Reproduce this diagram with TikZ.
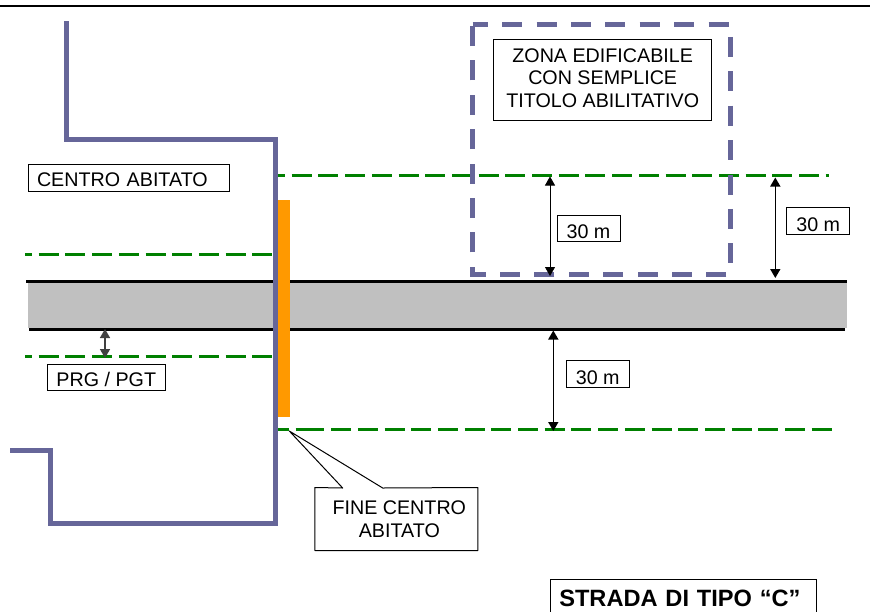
\documentclass[tikz,border=0pt]{standalone}
\usepackage{fontspec}
\setmainfont{Liberation Sans}
\usetikzlibrary{arrows.meta}
\definecolor{bordo}{HTML}{666699}
\definecolor{fascia}{HTML}{008000}
\definecolor{fine}{HTML}{FF9900}
\definecolor{strada}{HTML}{C0C0C0}
\tikzset{
    limite/.style={color=bordo, line width=5pt},
    zona/.style={limite, dash pattern=on 20pt off 14.4pt, dash phase=5pt},
    rispetto/.style={color=fascia, line width=3pt, dash pattern=on 20pt off 6.7pt},
    ciglio/.style={line width=3pt},
    quota/.style={{Triangle[length=9pt,width=10pt]}-{Triangle[length=9pt,width=10pt]}, line width=1.5pt},
    targa/.style={draw, fill=white, line width=1pt, inner sep=0pt, align=center,
        font=\fontsize{19.7}{22.6}\selectfont},
    riga/.style={text depth=0pt, text height=#1},
}

\begin{document}
\begin{tikzpicture}[x=1pt, y=-1pt]
        \useasboundingbox (0,0) rectangle (870,611);
        \clip (0,0) rectangle (870,611);

        % top rule
        \draw[line width=2.4pt] (0,6) -- (870,6);

        % road
        \fill[color=strada] (28,281) rectangle (847,328);
        \draw[ciglio] (26,281.7) -- (574,281.7);
        \draw[ciglio] (574,281) -- (847,281);
        \draw[ciglio] (29,329) -- (845,329);

        % green lines
        \draw[rispetto, dash phase=10pt] (275,175.5) -- (829,175.5);
        \draw[rispetto, dash phase=13pt] (25,254.5) -- (272,254.5);
        \draw[rispetto, dash phase=13pt] (25,356.7) -- (272,356.7);
        \draw[rispetto, dash pattern=on 10.7pt off 7pt] (278,429) -- (305,429);
        \draw[rispetto] (304.4,429) -- (833,429);

        % built-up area and buildable zone
        \fill[color=fine] (278,200) rectangle (290,417);
        \draw[limite] (66,21) -- (66,139) -- (275.3,139) -- (275.3,523.3) -- (50.3,523.3) -- (50.3,450) -- (10,450);
        \draw[zona] (472.7,24) -- (730,24) -- (730,274) -- (472.7,274) -- cycle;

        % arrow ends
        \coordinate (zonaAlto) at (550,176.5);
        \coordinate (zonaBasso) at (550,276);
        \coordinate (fuoriAlto) at (775.3,177.5);
        \coordinate (fuoriBasso) at (775.3,278);
        \coordinate (sottoAlto) at (553.3,330.5);
        \coordinate (sottoBasso) at (553.3,431);
        \coordinate (prgAlto) at (105,329);
        \coordinate (prgBasso) at (105,358);
        \coordinate (finePunta) at (289.3,431);
        \coordinate (fineA) at (342.7,488);
        \coordinate (fineB) at (382.7,488);

        % arrows
        \draw[quota, line width=0.8pt] (zonaAlto) -- (zonaBasso);
        \draw[quota] (fuoriAlto) -- (fuoriBasso);
        \draw[quota] (sottoAlto) -- (sottoBasso);
        \draw[quota, color=black!75] (prgAlto) -- (prgBasso);

        % labels
        \node[targa, riga=18pt, minimum width=201pt, minimum height=27pt, text width=183pt, align=left] (centro) at (128.5,177.5) {CENTRO ABITATO};
        \node[targa, minimum width=218pt, minimum height=81pt] (zonaEd) at (602.7,79.5) {ZONA EDIFICABILE\\CON SEMPLICE\\TITOLO ABILITATIVO\rule[-3pt]{0pt}{3pt}};
        \node[targa, riga=20pt, minimum width=63pt, minimum height=26pt] (trentaA) at (588.5,228) {30 m};
        \node[targa, riga=20pt, minimum width=63pt, minimum height=26.6pt] (trentaB) at (818.2,221) {30 m};
        \node[targa, riga=20pt, minimum width=63.3pt, minimum height=26.6pt] (trentaC) at (597.7,374) {30 m};
        \node[targa, riga=18pt, minimum width=118pt, minimum height=26.3pt] (prg) at (106.3,377.2) {PRG / PGT};
        \node[targa, draw=none, fill=none, minimum width=162pt, minimum height=62pt] (fineCentro) at (396.3,519) {\hspace*{6pt}FINE CENTRO\\\hspace*{6pt}ABITATO};
        \draw[line width=1pt, line join=round] (fineCentro.north west) -- (fineA) -- (finePunta) -- (fineB) -- (fineCentro.north east) -- (fineCentro.south east) -- (fineCentro.south west) -- cycle;
        \node[targa, riga=17pt, minimum height=38pt, text width=248pt, align=left, inner xsep=9pt, font=\fontsize{23.6}{28}\selectfont\bfseries] (tipo) at (683.3,598.3) {STRADA DI TIPO “C”};
    \end{tikzpicture}
\end{document}
